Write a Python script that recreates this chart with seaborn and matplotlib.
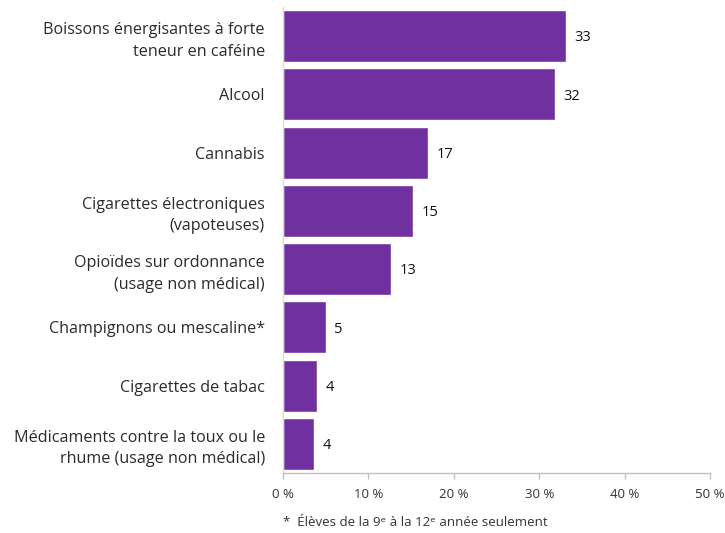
import matplotlib
matplotlib.use("Agg")
import matplotlib.pyplot as plt
import seaborn as sns
import pandas as pd

categories = [
    "Boissons énergisantes à forte\nteneur en caféine",
    "Alcool",
    "Cannabis",
    "Cigarettes électroniques\n(vapoteuses)",
    "Opioïdes sur ordonnance\n(usage non médical)",
    "Champignons ou mescaline*",
    "Cigarettes de tabac",
    "Médicaments contre la toux ou le\nrhume (usage non médical)",
]
values = [33.1, 31.8, 17.0, 15.2, 12.7, 5.0, 4.0, 3.6]
value_labels = ["33", "32", "17", "15", "13", "5", "4", "4"]
x_ticks = [0, 10, 20, 30, 40, 50]
x_tick_labels = ["0 %", "10 %", "20 %", "30 %", "40 %", "50 %"]
footnote = "*  Élèves de la 9ᵉ à la 12ᵉ année seulement"

sns.set_theme(style="white")
plt.rcParams["font.family"] = ["Open Sans", "DejaVu Sans"]

df = pd.DataFrame({"cat": categories, "val": values})

fig = plt.figure(figsize=(7.25, 5.33), dpi=100)
ax = fig.add_axes([283 / 725, 1 - 473 / 533, (710 - 283) / 725, (473 - 7) / 533])

sns.barplot(data=df, x="val", y="cat", ax=ax, color="#7030A0", saturation=1,
            width=0.89, orient="h")

ax.set_xlim(0, 50)
ax.set_ylim(7.5, -0.5)
ax.set_xticks(x_ticks)
ax.set_xticklabels(x_tick_labels, fontsize=9.5, color="#333333")
ax.set_xlabel("")
ax.set_ylabel("")
ax.tick_params(axis="y", length=0, pad=13, labelsize=11.6, labelcolor="#2b2b2b")
ax.tick_params(axis="x", length=4, width=1, color="#bfbfbf", direction="out",
               pad=7, bottom=True)
for lab in ax.get_yticklabels():
    lab.set_horizontalalignment("right")
    lab.set_linespacing(1.45)

for s in ["top", "right"]:
    ax.spines[s].set_visible(False)
ax.spines["left"].set_color("#d9d9d9")
ax.spines["bottom"].set_color("#bfbfbf")
ax.spines["left"].set_linewidth(1)
ax.spines["bottom"].set_linewidth(1)

for i, (v, t) in enumerate(zip(values, value_labels)):
    ax.text(v + 1.0, i + 0.03, t, va="center", ha="left", fontsize=10.5,
            color="#111111")

fig.text(283 / 725, 1 - 523 / 533, footnote, fontsize=9.5, color="#333333",
         ha="left", va="center")

fig.savefig("out.png", dpi=100)
